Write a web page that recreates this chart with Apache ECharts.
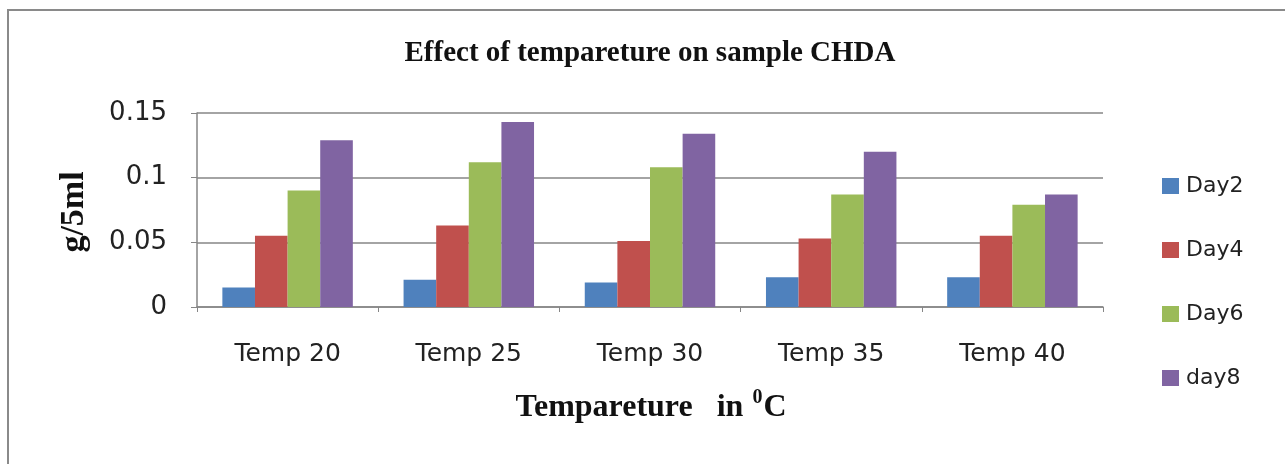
<!DOCTYPE html>
<html>
<head>
<meta charset="utf-8">
<script src="https://cdn.jsdelivr.net/npm/echarts@6/dist/echarts.min.js"></script>
<style>
html,body{margin:0;padding:0;background:#fff;}
#chart{width:1285px;height:464px;}
</style>
</head>
<body>
<div id="chart"></div>
<script>
var categories = ['Temp 20', 'Temp 25', 'Temp 30', 'Temp 35', 'Temp 40'];
var day2 = [0.015, 0.021, 0.019, 0.023, 0.023];
var day4 = [0.055, 0.063, 0.051, 0.053, 0.055];
var day6 = [0.090, 0.112, 0.108, 0.087, 0.079];
var day8 = [0.129, 0.143, 0.134, 0.120, 0.087];
var seriesNames = ['Day2', 'Day4', 'Day6', 'day8'];
var yTicks = [0, 0.05, 0.1, 0.15];

var colors = ['#4F81BD', '#C0504D', '#9BBB59', '#8064A2'];
var chart = echarts.init(document.getElementById('chart'), null, {renderer: 'canvas'});
var dataSets = [day2, day4, day6, day8];
var axisColor = '#868686';
var labelFont = 'DejaVu Sans';

chart.setOption({
  animation: false,
  backgroundColor: '#ffffff',
  color: colors,
  graphic: [
    {type: 'rect', shape: {x: 8, y: 10, width: 1300, height: 480}, style: {fill: 'none', stroke: '#8a8a8a', lineWidth: 2}, silent: true},
    {type: 'text', x: 650, y: 54, style: {text: 'Effect of tempareture on sample CHDA', font: 'bold 29px "Liberation Serif"', fill: '#111', textAlign: 'center', textVerticalAlign: 'middle'}},
    {type: 'text', x: 74, y: 212, rotation: Math.PI / 2, style: {text: 'g/5ml', font: 'bold 34px "Liberation Serif"', fill: '#111', textAlign: 'center', textVerticalAlign: 'middle'}},
    {type: 'text', x: 651, y: 406, style: {
      text: '{a|Tempareture   in }{s|0}{a|C}',
      rich: {
        a: {font: 'bold 32px "Liberation Serif"', fill: '#111', verticalAlign: 'bottom', lineHeight: 36},
        s: {font: 'bold 20px "Liberation Serif"', fill: '#111', verticalAlign: 'top', lineHeight: 36, padding: [0, 1, 16, 1]}
      },
      textAlign: 'center', textVerticalAlign: 'middle'}}
  ],
  legend: {
    orient: 'vertical',
    left: 1157,
    top: 170,
    itemWidth: 17,
    itemHeight: 16,
    itemGap: 42,
    icon: 'rect',
    data: seriesNames,
    textStyle: {fontFamily: labelFont, fontSize: 22, color: '#222', padding: [0, 0, 0, 2]}
  },
  grid: {left: 197, right: 182, top: 113, bottom: 157, containLabel: false},
  xAxis: {
    type: 'category',
    data: categories,
    axisLine: {show: true, lineStyle: {color: axisColor, width: 1.5}},
    axisTick: {show: true, alignWithLabel: false, length: 5, lineStyle: {color: axisColor}},
    axisLabel: {margin: 35, fontFamily: labelFont, fontSize: 25, color: '#222'}
  },
  yAxis: {
    type: 'value',
    min: 0,
    max: 0.15,
    interval: 0.05,
    axisLine: {show: true, lineStyle: {color: axisColor, width: 1.5}},
    axisTick: {show: true, length: 6, inside: false, lineStyle: {color: axisColor}},
    splitLine: {show: true, lineStyle: {color: axisColor, width: 1.5}},
    axisLabel: {margin: 30, fontFamily: labelFont, fontSize: 26, color: '#222',
      formatter: function (v) { var i = yTicks.indexOf(Math.round(v * 100) / 100); return i >= 0 ? String(yTicks[i]) : ''; }}
  },
  series: seriesNames.map(function (n, i) {
    return {name: n, type: 'bar', data: dataSets[i], barGap: '0%', barCategoryGap: '28%'};
  })
});
</script>
</body>
</html>
